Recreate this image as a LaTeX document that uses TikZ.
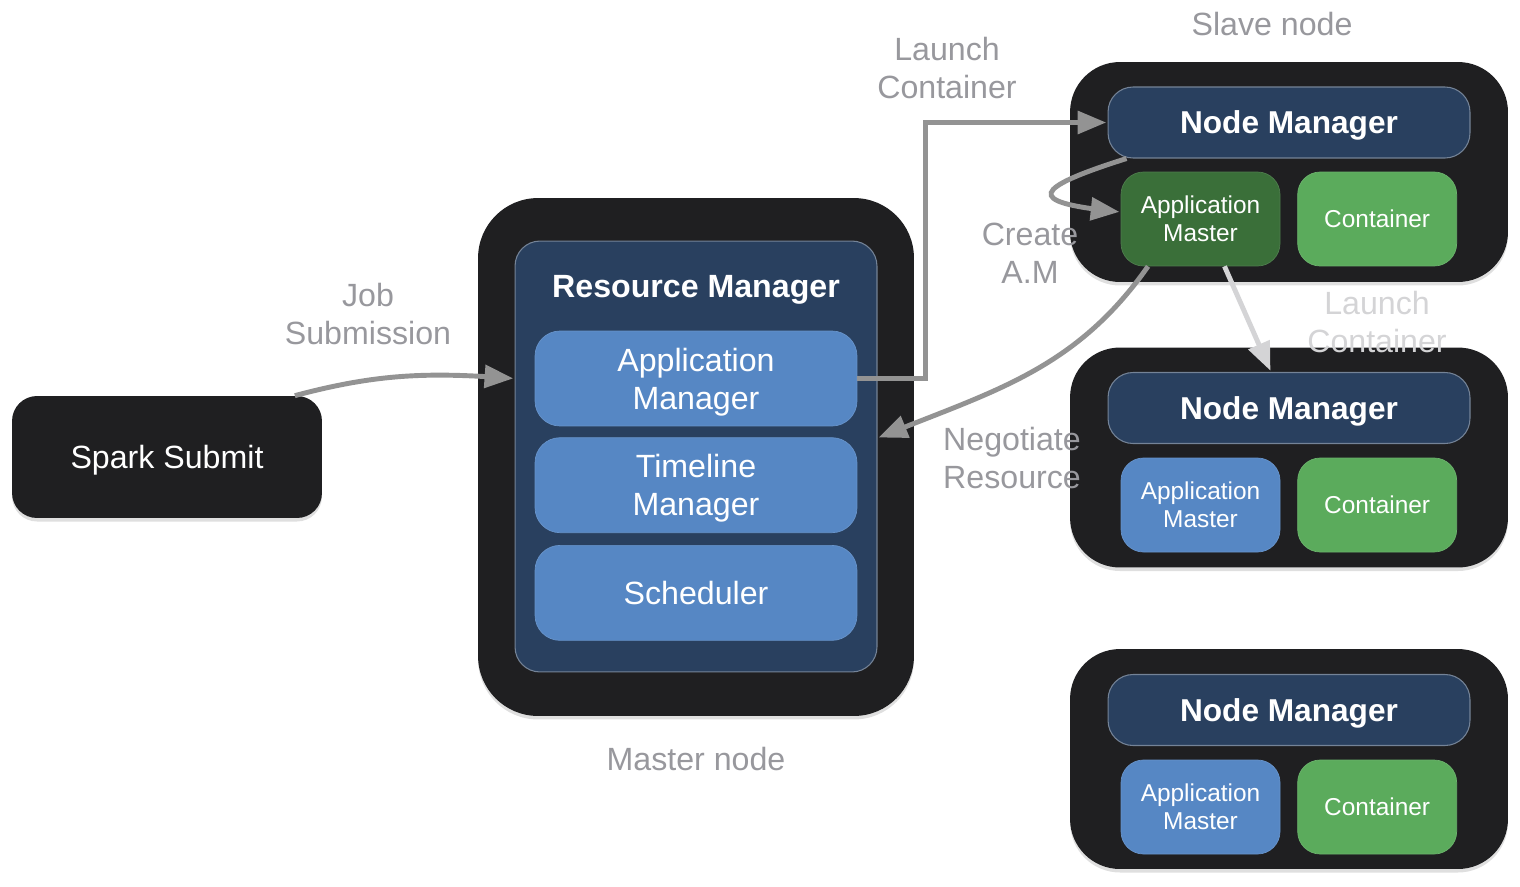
\documentclass[tikz,border=0pt]{standalone}
\usepackage{fontspec}
\setmainfont{Liberation Sans}
\usepackage{xcolor}
\usetikzlibrary{arrows,positioning,shadows}
\definecolor{boxblack}{RGB}{31,31,33}
\definecolor{darkblue}{RGB}{41,64,95}
\definecolor{lightblue}{RGB}{86,135,196}
\definecolor{darkgreen}{RGB}{58,111,57}
\definecolor{lightgreen}{RGB}{91,171,92}
\definecolor{labelgray}{RGB}{152,152,157}
\definecolor{arrowgray}{RGB}{147,147,147}
\definecolor{palegray}{RGB}{212,212,214}

\begin{document}
\begin{tikzpicture}[x=0.02cm,y=0.02cm,>=triangle 45,shorten >=1pt,
big font/.style={font=\fontsize{18.3}{21.5}\selectfont},
small font/.style={font=\fontsize{13.9}{15.9}\selectfont},
host node/.style={fill=boxblack,draw=none,text depth=0pt,drop shadow={opacity=0.25,shadow xshift=0pt,shadow yshift=-2pt}},
manager node/.style={fill=darkblue,draw=white!35!darkblue,line width=0.6pt,rounded corners=0.5cm,text=white,text depth=0pt},
part node/.style={fill=lightblue,draw=white!10!lightblue,rounded corners=0.5cm,text=white,align=center,
  minimum width=6.44cm,minimum height=1.9cm,big font,text depth=0pt},
am node/.style={draw=white!10!#1,fill=#1,rounded corners=0.45cm,text=white,align=center,
  minimum width=3.18cm,minimum height=1.88cm,small font,text depth=0pt},
label text/.style={text=labelgray,align=center,big font},
flow/.style={->,draw=arrowgray,line width=2.8pt}]

\useasboundingbox (0,0) rectangle (1520,-886);

% client side
\node[host node,rounded corners=0.5cm,minimum width=6.2cm,minimum height=2.44cm,text=white,big font]
  (spark) at (167,-457) {Spark Submit};

% master node
\node[host node,rounded corners=1.2cm,minimum width=8.72cm,minimum height=10.36cm] (master) at (696,-457) {};
\node[manager node,minimum width=7.24cm,minimum height=8.62cm] (rm) at (696,-456.5) {};
\node[text=white,font=\fontsize{18.3}{21.5}\selectfont\bfseries] (rmtitle) at (696,-290) {Resource Manager};
\node[part node] (appman) at (696,-378.5) {Application\\Manager};
\node[part node,below=0.22cm of appman] (timeline) {Timeline\\Manager};
\node[part node,below=0.24cm of timeline] (sched) {Scheduler};
\node[label text] (masterlabel) at (696,-759) {Master node};

% slave nodes
\node[host node,rounded corners=1cm,minimum width=8.76cm,minimum height=4.4cm] (slave1) at (1289,-172) {};
\node[manager node,minimum width=7.24cm,minimum height=1.42cm,font=\fontsize{18}{21}\selectfont\bfseries]
  (nm1) at (1289,-122.5) {Node Manager};
\node[am node=darkgreen] (am1) at (1200.5,-219) {Application\\Master};
\node[am node=lightgreen,right=0.34cm of am1] (cont1) {Container};

\node[host node,rounded corners=1cm,minimum width=8.76cm,minimum height=4.4cm] (slave2) at (1289,-457.5) {};
\node[manager node,minimum width=7.24cm,minimum height=1.42cm,font=\fontsize{18}{21}\selectfont\bfseries]
  (nm2) at (1289,-408) {Node Manager};
\node[am node=lightblue] (am2) at (1200.5,-505) {Application\\Master};
\node[am node=lightgreen,right=0.34cm of am2] (cont2) {Container};

\node[host node,rounded corners=1cm,minimum width=8.76cm,minimum height=4.4cm] (slave3) at (1289,-759) {};
\node[manager node,minimum width=7.24cm,minimum height=1.42cm,font=\fontsize{18}{21}\selectfont\bfseries]
  (nm3) at (1289,-710) {Node Manager};
\node[am node=lightblue] (am3) at (1200.5,-807) {Application\\Master};
\node[am node=lightgreen,right=0.34cm of am3] (cont3) {Container};

\node[label text] (slavelabel) at (1272,-24) {Slave node};

% connectors
\draw[flow] ([xshift=-0.55cm]spark.north east) to[out=15,in=176] (rm.west |- appman);
\draw[flow,rounded corners=0pt] (appman.east) -- ++(68,0) |- (nm1.west);
\draw[flow] ([xshift=0.38cm]nm1.south west) .. controls +(-95,-30) and +(-95,10) .. ([yshift=0.14cm]am1.west);
\draw[flow] ([xshift=-1.05cm]am1.south) to[out=235,in=22] ([yshift=0.37cm]rm.east);
\draw[flow,draw=palegray] ([xshift=0.48cm]am1.south) -- ([xshift=-0.36cm]nm2.north);

\node[label text] (joblabel) at (368,-314) {Job\\Submission};
\node[label text] (launchlabel) at (947,-68) {Launch\\Container};
\node[label text] (createlabel) at (1030,-253) {Create\\A.M};
\node[label text,text=palegray] (launchlabel2) at (1377,-322) {Launch\\Container};
\node[label text] (negotiatelabel) at (1012,-458) {Negotiate\\Resource};
\end{tikzpicture}
\end{document}
